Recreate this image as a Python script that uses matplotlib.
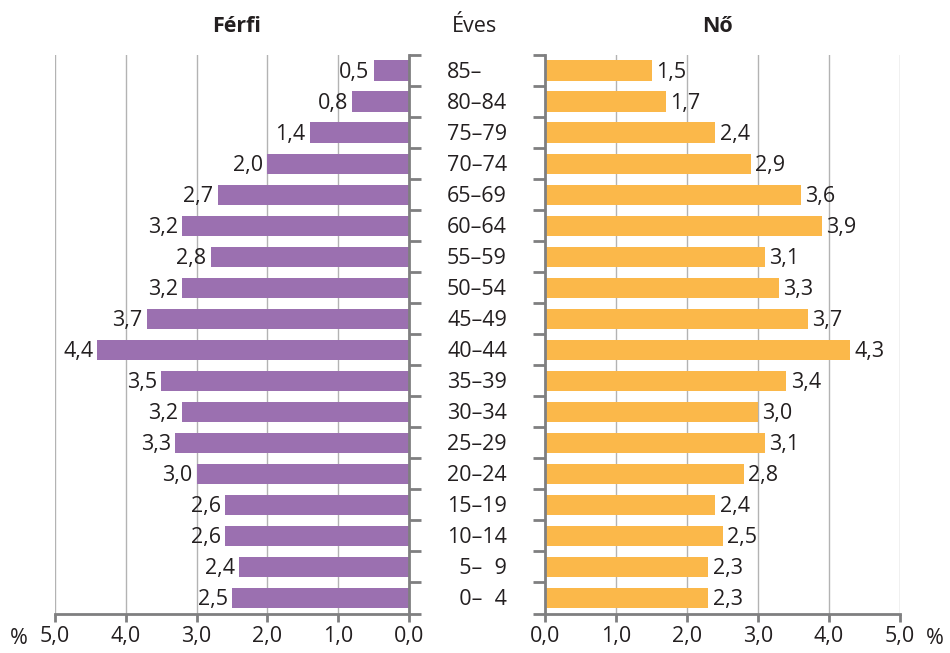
import numpy as np
import matplotlib.pyplot as plt
from matplotlib.transforms import blended_transform_factory

plt.rcParams['font.family'] = ['Open Sans', 'DejaVu Sans']

# age groups, top to bottom (U+2007 = figure space for digit alignment)
ages = ['85–', '80–84', '75–79', '70–74', '65–69', '60–64', '55–59', '50–54',
        '45–49', '40–44', '35–39', '30–34', '25–29', '20–24', '15–19', '10–14',
        '\u20075–\u20079', '\u20070–\u20074']
ferfi = [0.5, 0.8, 1.4, 2.0, 2.7, 3.2, 2.8, 3.2, 3.7, 4.4, 3.5, 3.2, 3.3, 3.0,
         2.6, 2.6, 2.4, 2.5]
no = [1.5, 1.7, 2.4, 2.9, 3.6, 3.9, 3.1, 3.3, 3.7, 4.3, 3.4, 3.0, 3.1, 2.8,
      2.4, 2.5, 2.3, 2.3]
xticks = [0, 1, 2, 3, 4, 5]

purple = '#9b70b0'
orange = '#fbb84a'
spine_c = '#7f7f80'
grid_c = '#b3b3b3'
text_c = '#231f20'
fs = 15.5

fig = plt.figure(figsize=(9.5, 6.53), dpi=100)
ax1 = fig.add_axes([55 / 950, 1 - 613.5 / 653, 354 / 950, 558.5 / 653])
ax2 = fig.add_axes([545 / 950, 1 - 613.5 / 653, 355 / 950, 558.5 / 653])

n = len(ages)
y = np.arange(n)[::-1]

for ax, vals, col in [(ax1, ferfi, purple), (ax2, no, orange)]:
    ax.barh(y, vals, height=0.65, color=col, zorder=2)
    ax.set_xlim(0, 5)
    ax.set_ylim(-0.5, n - 0.5)
    ax.set_xticks(xticks)
    ax.set_xticklabels([f'{v:.1f}'.replace('.', ',') for v in xticks])
    ax.set_yticks(np.arange(-0.5, n, 1.0))
    ax.set_yticklabels([])
    ax.grid(axis='x', color=grid_c, lw=1.0, zorder=0)
    for s in ax.spines.values():
        s.set_visible(False)
    ax.spines['bottom'].set_visible(True)
    ax.spines['bottom'].set_color(spine_c)
    ax.spines['bottom'].set_linewidth(2.0)
    ax.tick_params(axis='x', direction='out', length=6, width=2.0,
                   color=spine_c, labelsize=fs, labelcolor=text_c, pad=3)
    ax.tick_params(axis='y', direction='out', length=8.5, width=2.0,
                   color=spine_c)
    for v, yy in zip(vals, y):
        lbl = f'{v:.1f}'.replace('.', ',')
        ha = 'right' if ax is ax1 else 'left'
        ax.text(v + 0.06, yy - 0.05, lbl, ha=ha, va='center',
                fontsize=fs, color=text_c)

ax1.invert_xaxis()
ax1.yaxis.tick_right()
ax1.spines['right'].set_visible(True)
ax1.spines['right'].set_color(spine_c)
ax1.spines['right'].set_linewidth(2.0)
ax2.spines['left'].set_visible(True)
ax2.spines['left'].set_color(spine_c)
ax2.spines['left'].set_linewidth(2.0)

# middle age labels
tr = blended_transform_factory(fig.transFigure, ax2.transData)
for a, yy in zip(ages, y):
    fig.text(447 / 950, yy - 0.05, a, transform=tr, ha='left', va='center',
             fontsize=fs, color=text_c)

fig.text(237 / 950, 1 - 27 / 653, 'Férfi', ha='center', va='center',
         fontsize=fs, fontweight='bold', color=text_c)
fig.text(475 / 950, 1 - 27 / 653, 'Éves', ha='center', va='center',
         fontsize=fs, color=text_c)
fig.text(717 / 950, 1 - 27 / 653, 'Nő', ha='center', va='center',
         fontsize=fs, fontweight='bold', color=text_c)
fig.text(19 / 950, 1 - 638 / 653, '%', ha='center', va='center',
         fontsize=fs, color=text_c)
fig.text(935 / 950, 1 - 638 / 653, '%', ha='center', va='center',
         fontsize=fs, color=text_c)

fig.savefig('out.png', dpi=100)
